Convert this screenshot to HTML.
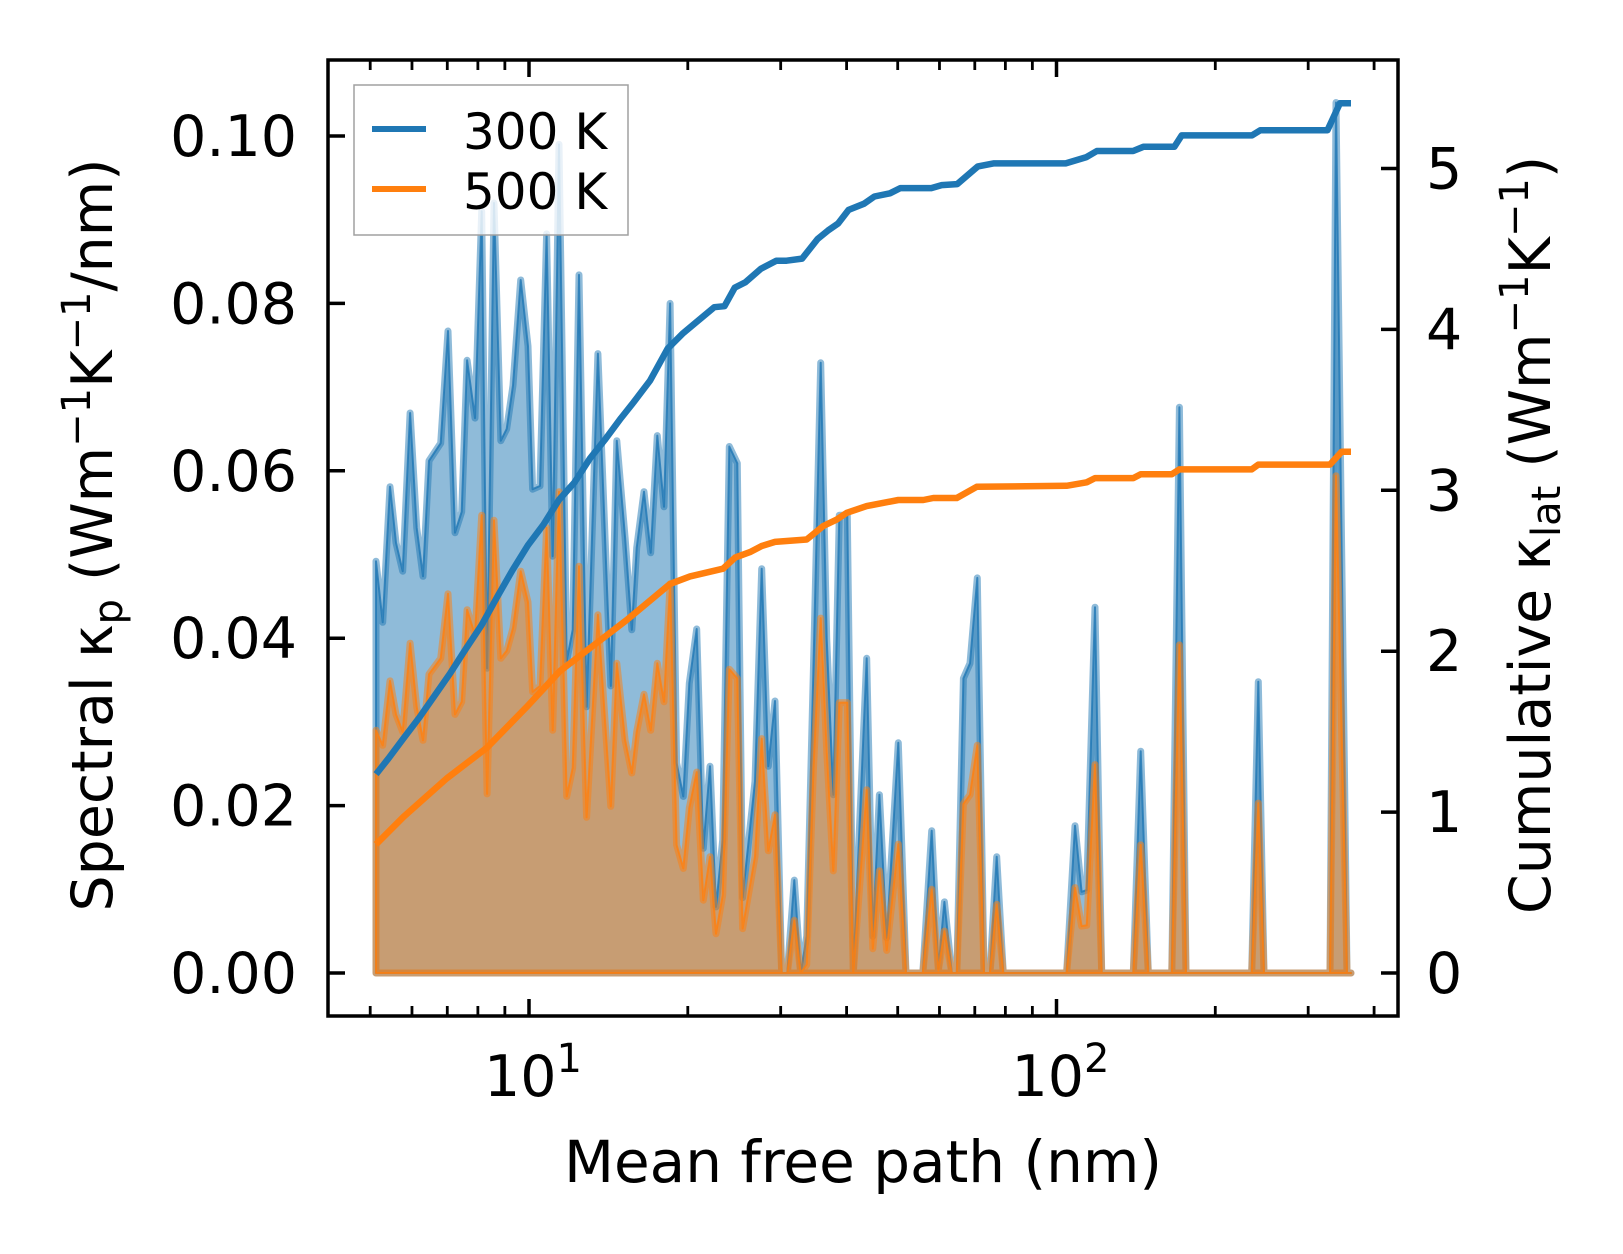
<!DOCTYPE html>
<html><head><meta charset="utf-8">
<style>
html,body{margin:0;padding:0;background:#fff;}
svg{display:block;font-family:"DejaVu Sans","Liberation Sans",sans-serif;}
</style></head>
<body>
<svg id="chart" width="1623" height="1254" viewBox="0 0 1623 1254" xmlns="http://www.w3.org/2000/svg">
<rect x="0" y="0" width="1623" height="1254" fill="#fff"/>
<g id="plot"></g>
<g id="axes"></g>
</svg>
<script>
// ---- data ----
const mfp = [5.129,5.281,5.452,5.596,5.763,5.950,6.126,6.297,6.464,6.802,7.022,7.240,7.456,7.631,7.901,8.136,8.328,8.585,8.841,9.072,9.326,9.645,9.956,10.16,10.49,10.80,11.09,11.40,11.79,12.10,12.44,12.86,13.51,14.29,14.67,15.21,15.66,16.00,16.52,17.01,17.51,18.03,18.51,19.05,19.61,20.13,20.79,21.40,22.04,22.62,23.29,23.97,24.82,25.41,26.82,27.61,28.42,29.27,30.14,30.88,31.84,32.74,33.61,34.59,35.73,36.68,37.75,38.75,40.13,41.19,43.68,44.84,46.15,47.66,50.13,51.85,55.78,58.01,59.71,61.30,63.31,64.71,66.60,68.55,70.78,72.88,74.78,77.02,79.29,104.5,108.4,111.6,114.1,118.3,121.8,139.8,144.4,149.3,165.4,171.0,176.0,234.4,241.3,247.4,330.0,338.8,355.4,361.6];
const spec300 = [0.0492,0.0419,0.0581,0.0514,0.048,0.0669,0.0532,0.0474,0.0612,0.0633,0.0767,0.0526,0.0551,0.0732,0.0663,0.091,0.0364,0.092,0.0636,0.065,0.0702,0.0828,0.0749,0.0578,0.0582,0.0883,0.0498,0.099,0.0373,0.041,0.0834,0.0318,0.074,0.0343,0.0636,0.052,0.041,0.0508,0.0575,0.0502,0.0642,0.0557,0.080,0.0251,0.0211,0.0346,0.0411,0.0149,0.0247,0.0079,0.0159,0.0629,0.0609,0.009,0.0229,0.0483,0.0247,0.0325,0,0,0.0111,0,0.0044,0.0357,0.0729,0.040,0.0213,0.0547,0.0547,0,0.0376,0.0044,0.0213,0.0042,0.0275,0,0,0.017,0.0005,0.0085,0,0,0.0352,0.037,0.0472,0,0,0.0139,0,0,0.0176,0.0097,0.0099,0.0437,0,0,0.0265,0,0,0.0676,0,0,0.0348,0,0,0.104,0,0];
const spec500 = [0.029,0.0272,0.0349,0.0309,0.0288,0.0394,0.0318,0.0278,0.0357,0.0376,0.0453,0.0309,0.0324,0.0434,0.0404,0.0547,0.0214,0.0541,0.0376,0.0385,0.0412,0.048,0.0443,0.0336,0.0343,0.0532,0.029,0.0575,0.0211,0.0245,0.0486,0.0186,0.0428,0.0199,0.037,0.0278,0.0239,0.0288,0.0333,0.029,0.037,0.0324,0.0465,0.0153,0.0125,0.0197,0.024,0.0087,0.0139,0.0047,0.0093,0.0363,0.0352,0.0053,0.0139,0.028,0.0146,0.0189,0,0,0.0063,0,0.001,0.024,0.0424,0.0266,0.0122,0.0323,0.0323,0,0.0219,0.0029,0.0122,0.0027,0.0154,0,0,0.010,0.0003,0.005,0,0,0.0202,0.0213,0.0272,0,0,0.0082,0,0,0.0102,0.0056,0.0057,0.0249,0,0,0.0153,0,0,0.0392,0,0,0.0203,0,0,0.0594,0,0];
const cumMfp300 = [5.13,5.41,5.79,6.20,6.63,7.10,7.59,8.13,8.70,9.30,9.95,10.65,11.40,12.20,13.05,13.97,14.94,15.78,16.96,18.31,19.60,20.69,22.44,23.48,24.56,25.70,27.50,29.43,30.78,32.94,35.25,36.87,38.57,40.35,43.18,45.17,48.34,50.57,57.89,60.58,64.83,70.96,75.94,104.1,114.0,119.3,139.7,146.1,167.3,172.7,234.8,243.4,326.4,344.6,361.6];
const cum300 = [1.236,1.332,1.461,1.589,1.725,1.866,2.014,2.162,2.336,2.503,2.658,2.786,2.941,3.050,3.198,3.320,3.449,3.546,3.681,3.880,3.977,4.041,4.138,4.144,4.260,4.292,4.376,4.427,4.427,4.440,4.562,4.614,4.659,4.743,4.781,4.826,4.846,4.878,4.878,4.897,4.903,5.013,5.032,5.032,5.071,5.109,5.109,5.135,5.135,5.206,5.206,5.238,5.238,5.405,5.405];
const cumMfp500 = [5.13,5.78,6.98,8.32,9.90,11.45,13.24,15.32,18.51,20.19,23.32,24.59,26.24,27.61,29.27,33.61,36.13,38.31,40.03,43.68,50.13,55.92,58.41,64.71,70.60,104.5,114.1,118.3,139.8,144.4,165.4,171.0,234.4,241.3,330.0,347.3,361.6];
const cum500 = [0.80,0.97,1.209,1.40,1.654,1.877,2.035,2.194,2.418,2.465,2.513,2.582,2.616,2.654,2.679,2.694,2.778,2.818,2.860,2.902,2.940,2.940,2.952,2.952,3.022,3.028,3.05,3.076,3.076,3.10,3.10,3.13,3.13,3.16,3.16,3.24,3.24];
const leftTicks = [0,0.02,0.04,0.06,0.08,0.10];
const leftTickLabels = ["0.00","0.02","0.04","0.06","0.08","0.10"];
const rightTicks = [0,1,2,3,4,5];
const xMajor = [10,100];
const xMajorExp = ["1","2"];
const xMinor = [5,6,7,8,9,20,30,40,50,60,70,80,90,200,300,400];
const legendLabels = ["300 K","500 K"];

// ---- scales ----
const X0=328, X1=1398, Y0=60, Y1=1016;
function xs(v){return 529 + (Math.log10(v)-1)*527.5;}
function yl(v){return 973 - v*8370;}
function yr(v){return 973 - v*160.9;}
const NS="http://www.w3.org/2000/svg";
const plot=document.getElementById('plot');
const axes=document.getElementById('axes');
function mk(tag,attrs,parent){const e=document.createElementNS(NS,tag);for(const k in attrs)e.setAttribute(k,attrs[k]);parent.appendChild(e);return e;}

function specPath(vals){
  let d='M'+xs(mfp[0]).toFixed(1)+','+yl(0).toFixed(1);
  for(let i=0;i<mfp.length;i++) d+=' L'+xs(mfp[i]).toFixed(1)+','+yl(vals[i]).toFixed(1);
  d+=' L'+xs(mfp[mfp.length-1]).toFixed(1)+','+yl(0).toFixed(1)+' Z';
  return d;
}
function linePath(xa,ya,f){
  let d='';
  for(let i=0;i<xa.length;i++) d+=(i?' L':'M')+xs(xa[i]).toFixed(1)+','+f(ya[i]).toFixed(1);
  return d;
}
const blue='#1f77b4', orange='#ff7f0e';
const f300=mk('path',{d:specPath(spec300),fill:blue,'fill-opacity':0.5,stroke:blue,'stroke-opacity':0.5,'stroke-width':7,'stroke-linejoin':'round'},plot);


const l300=mk('path',{d:specPath(spec300),fill:'none',stroke:blue,'stroke-opacity':0.8,'stroke-width':2,'stroke-linejoin':'round'},plot);


const f500=mk('path',{d:specPath(spec500),fill:orange,'fill-opacity':0.5,stroke:orange,'stroke-opacity':0.5,'stroke-width':7,'stroke-linejoin':'round'},plot);


const l500=mk('path',{d:specPath(spec500),fill:'none',stroke:orange,'stroke-opacity':0.8,'stroke-width':2,'stroke-linejoin':'round'},plot);


const c300=mk('path',{d:linePath(cumMfp300,cum300,yr),fill:'none',stroke:blue,'stroke-width':6.5,'stroke-linejoin':'round'},plot);


const c500=mk('path',{d:linePath(cumMfp500,cum500,yr),fill:'none',stroke:orange,'stroke-width':6.5,'stroke-linejoin':'round'},plot);



const fr=mk('rect',{x:X0,y:Y0,width:X1-X0,height:Y1-Y0,fill:'none',stroke:'#000','stroke-width':3.5},axes);


leftTicks.forEach((v,i)=>{
  const y=yl(v);
  const t=mk('line',{x1:X0,x2:X0+17,y1:y,y2:y,stroke:'#000','stroke-width':3.5},axes);
  
  
  const tx=mk('text',{x:297,y:y+20,'font-size':57,'text-anchor':'end',fill:'#000'},axes);
  tx.textContent=leftTickLabels[i];
  
  
});
rightTicks.forEach(v=>{
  const y=yr(v);
  const t=mk('line',{x1:X1-17,x2:X1,y1:y,y2:y,stroke:'#000','stroke-width':3.5},axes);
  
  
  const tx=mk('text',{x:1426,y:y+20,'font-size':57,'text-anchor':'start',fill:'#000'},axes);
  tx.textContent=String(v);
  
  
});
xMajor.forEach((v,i)=>{
  const x=xs(v);
  [[Y1-17,Y1],[Y0,Y0+17]].forEach(p=>{
    const t=mk('line',{x1:x,x2:x,y1:p[0],y2:p[1],stroke:'#000','stroke-width':3.5},axes);
    
    
  });
  const tx=mk('text',{x:x+4,y:1096,'font-size':57,'text-anchor':'middle',fill:'#000'},axes);
  
  
  const a=mk('tspan',{},tx); a.textContent='10';
  const b=mk('tspan',{dy:-24,'font-size':40},tx); b.textContent=xMajorExp[i];
});
xMinor.forEach(v=>{
  const x=xs(v);
  [[Y1-10,Y1],[Y0,Y0+10]].forEach(p=>{
    const t=mk('line',{x1:x,x2:x,y1:p[0],y2:p[1],stroke:'#000','stroke-width':2.8},axes);
    
    
  });
});
const xt=mk('text',{x:863,y:1182,'font-size':58,'text-anchor':'middle',fill:'#000'},axes);
xt.textContent='Mean free path (nm)';



const yt=mk('text',{x:0,y:0,'font-size':57,'text-anchor':'middle',fill:'#000',transform:'translate(112,535) rotate(-90)'},axes);


yt.innerHTML='Spectral κ<tspan font-size="40" dy="10">p</tspan><tspan dy="-10"> (Wm</tspan><tspan font-size="40" dy="-22">−1</tspan><tspan dy="22">K</tspan><tspan font-size="40" dy="-22">−1</tspan><tspan dy="22">/nm)</tspan>';

const yt2=mk('text',{x:0,y:0,'font-size':57,'text-anchor':'middle',fill:'#000',transform:'translate(1550,535) rotate(-90)'},axes);


yt2.innerHTML='Cumulative κ<tspan font-size="40" dy="10">lat</tspan><tspan dy="-10"> (Wm</tspan><tspan font-size="40" dy="-22">−1</tspan><tspan dy="22">K</tspan><tspan font-size="40" dy="-22">−1</tspan><tspan dy="22">)</tspan>';

const lg=mk('g',{},axes);


mk('rect',{x:354,y:85,width:274,height:150,fill:'#fff','fill-opacity':0.8,stroke:'#a0a0a0','stroke-width':1.5},lg);
[blue,orange].forEach((c,i)=>{
  const y=129+i*60;
  const ln=mk('line',{x1:372,x2:426,y1:y,y2:y,stroke:c,'stroke-width':6},lg);
  
  
  const tx=mk('text',{x:463,y:y+20,'font-size':50,fill:'#000'},lg);
  tx.textContent=legendLabels[i];
  
  
});
</script>
</body></html>
